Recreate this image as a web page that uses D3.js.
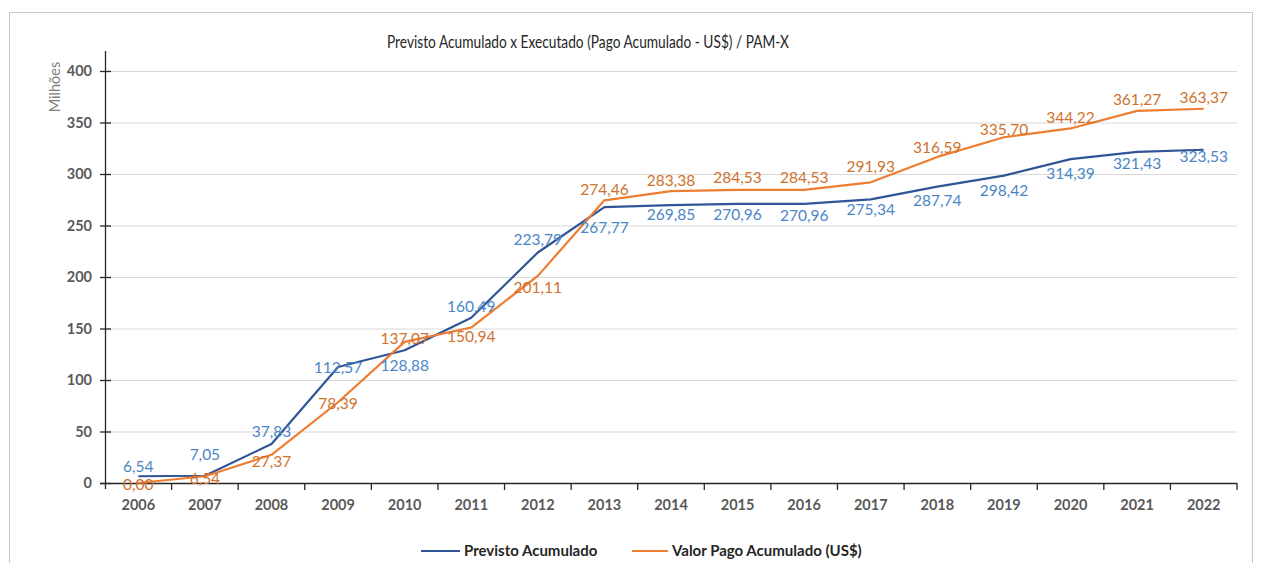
<!DOCTYPE html>
<html>
<head>
<meta charset="utf-8">
<script src="https://d3js.org/d3.v7.min.js"></script>
<style>
  body { margin: 0; background: #fff; font-family: Lato, "Open Sans", sans-serif; }
  .tick-lbl { font-size: 14.5px; font-weight: bold; fill: #595959; }
  .dlbl { font-size: 15.5px; }
  .title { font-size: 16.5px; fill: #262626; }
  .legend { font-size: 15px; font-weight: bold; fill: #262626; }
</style>
</head>
<body>
<div id="chart"></div>
<script>
// data
const years = ["2006","2007","2008","2009","2010","2011","2012","2013","2014","2015","2016","2017","2018","2019","2020","2021","2022"];
const previsto = [6.54, 7.05, 37.83, 112.57, 128.88, 160.49, 223.79, 267.77, 269.85, 270.96, 270.96, 275.34, 287.74, 298.42, 314.39, 321.43, 323.53];
const pago = [0.00, 6.54, 27.37, 78.39, 137.07, 150.94, 201.11, 274.46, 283.38, 284.53, 284.53, 291.93, 316.59, 335.70, 344.22, 361.27, 363.37];
const yTicks = [0, 50, 100, 150, 200, 250, 300, 350, 400];

// label nudges (px, relative to point)
const prevDy = [-10, -21, -12, 1, 15, -11, -13, 20, 10, 11, 12, 10, 14, 15, 14, 12, 7];
const pagoDy = [2, 2, 7, 1, -3, 9, 12, -11, -11, -12, -12, -16, -9, -8, -11, -11, -11];

const W = 1267, H = 563;
const svg = d3.select("#chart").append("svg").attr("width", W).attr("height", H);

// outer frame
svg.append("rect").attr("x", 9.5).attr("y", 12.5).attr("width", 1243).attr("height", 600)
  .attr("fill", "none").attr("stroke", "#c8c8c8");

const x = d3.scaleBand().domain(years).range([105, 1237]);
const y = d3.scaleLinear().domain([0, 400]).range([483, 71]);

// gridlines
svg.append("g").selectAll("line").data(yTicks.slice(1)).join("line")
  .attr("x1", 105).attr("x2", 1237)
  .attr("y1", d => y(d) + 0.5).attr("y2", d => y(d) + 0.5)
  .attr("stroke", "#d9d9d9");

// y axis
const ya = svg.append("g");
ya.append("line").attr("x1", 105.5).attr("x2", 105.5).attr("y1", 51).attr("y2", 489).attr("stroke", "#262626").attr("stroke-width", 1.3);
ya.selectAll("line.t").data(yTicks).join("line").attr("class", "t")
  .attr("x1", 100).attr("x2", 111).attr("y1", d => y(d) + 0.5).attr("y2", d => y(d) + 0.5)
  .attr("stroke", "#262626").attr("stroke-width", 1.3);
ya.selectAll("text").data(yTicks).join("text").attr("class", "tick-lbl")
  .attr("x", 92).attr("y", d => y(d)).attr("dy", "0.35em").attr("text-anchor", "end")
  .text(d => d);

svg.append("text").attr("transform", "translate(55,87) rotate(-90)")
  .attr("text-anchor", "middle").attr("dy", "0.35em")
  .style("font-size", "14.5px").style("fill", "#7f7f7f").text("Milhões");

// x axis
const xa = svg.append("g");
xa.append("line").attr("x1", 100).attr("x2", 1237).attr("y1", 483.5).attr("y2", 483.5).attr("stroke", "#262626").attr("stroke-width", 1.3);
xa.selectAll("line.t").data(years.slice(1).concat(["end"])).join("line").attr("class", "t")
  .attr("x1", (d, i) => i < years.length - 1 ? x(d) : x.range()[1])
  .attr("x2", (d, i) => i < years.length - 1 ? x(d) : x.range()[1])
  .attr("y1", 483).attr("y2", 490).attr("stroke", "#262626").attr("stroke-width", 1.3);
xa.selectAll("text").data(years).join("text").attr("class", "tick-lbl")
  .attr("x", d => x(d) + x.bandwidth() / 2).attr("y", 505).attr("dy", "0.35em")
  .attr("text-anchor", "middle").text(d => d);

// title
svg.append("text").attr("class", "title").attr("x", 588).attr("y", 42).attr("dy", "0.35em")
  .attr("text-anchor", "middle").attr("textLength", 402).attr("lengthAdjust", "spacingAndGlyphs")
  .text("Previsto Acumulado x Executado (Pago Acumulado - US$) / PAM-X");

const cx = (d, i) => x(years[i]) + x.bandwidth() / 2;
const fmt = v => v.toFixed(2).replace(".", ",");

const series = [
  { name: "Previsto Acumulado", values: previsto, dy: prevDy, line: "#2F5597", label: "#4A86C5" },
  { name: "Valor Pago Acumulado (US$)", values: pago, dy: pagoDy, line: "#ED7D31", label: "#D0712E" }
];

series.forEach(s => {
  svg.append("path").datum(s.values)
    .attr("fill", "none").attr("stroke", s.line).attr("stroke-width", 2.2)
    .attr("stroke-linejoin", "round")
    .attr("d", d3.line().x(cx).y(d => y(d)));
});

series.forEach(s => {
  svg.append("g").selectAll("text").data(s.values).join("text").attr("class", "dlbl")
    .attr("x", cx).attr("y", (d, i) => y(d) + s.dy[i]).attr("dy", "0.35em")
    .attr("text-anchor", "middle").style("fill", s.label).text(fmt);
});

// legend
const leg = [{ s: series[0], x1: 421, x2: 460 }, { s: series[1], x1: 632, x2: 668 }];
leg.forEach(l => {
  svg.append("line").attr("x1", l.x1).attr("x2", l.x2).attr("y1", 551).attr("y2", 551)
    .attr("stroke", l.s.line).attr("stroke-width", 2.2);
  svg.append("text").attr("class", "legend").attr("x", l.x2 + 4).attr("y", 551).attr("dy", "0.35em")
    .text(l.s.name);
});
</script>
</body>
</html>
